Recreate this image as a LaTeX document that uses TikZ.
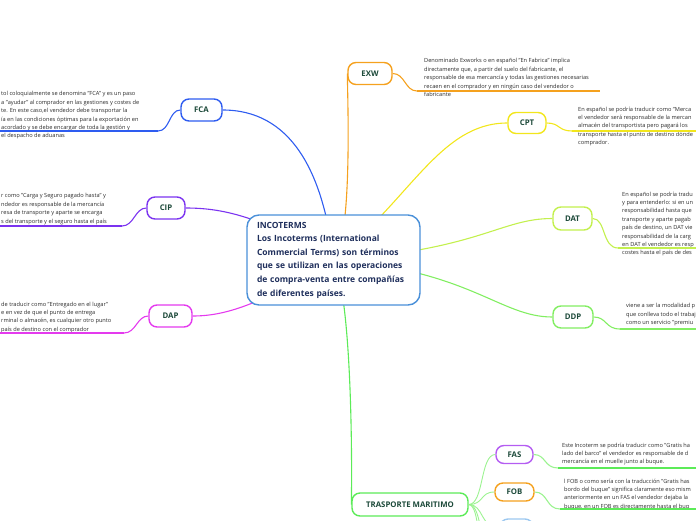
\documentclass[tikz,border=0pt]{standalone}
\usepackage{fontspec}
\setmainfont{Open Sans}
\usetikzlibrary{backgrounds}

\definecolor{rootline}{HTML}{4A90D9}
\definecolor{roottext}{HTML}{1F2F5C}
\definecolor{labeltext}{HTML}{1D4A3A}
\definecolor{bodytext}{HTML}{2B2B2B}
\definecolor{exwc}{HTML}{F5A11E}
\definecolor{cptc}{HTML}{F2E61C}
\definecolor{datc}{HTML}{C3F04E}
\definecolor{ddpc}{HTML}{82EE62}
\definecolor{fcac}{HTML}{2E5CF0}
\definecolor{cipc}{HTML}{7B33F0}
\definecolor{dapc}{HTML}{E43AEE}
\definecolor{tmc}{HTML}{5CEB58}
\definecolor{tmlight}{HTML}{9BF390}
\definecolor{fasc}{HTML}{B45CF2}
\definecolor{fobc}{HTML}{F5A11E}
\definecolor{cfrc}{HTML}{9CC8F0}

\begin{document}
\begin{tikzpicture}[x=1pt,y=-1pt,
    root/.style={draw=rootline, fill=white, rounded corners=12pt, line width=1.4pt,
      text width=153pt, inner xsep=10pt, minimum height=90pt, align=left,
      text=roottext, font=\fontsize{8.5}{13.6}\selectfont\bfseries},
    topic/.style={draw, fill=white, rounded corners=8pt, line width=1.4pt,
      minimum height=22pt, inner sep=0pt, text=labeltext,
      font=\fontsize{7.8}{9}\selectfont\bfseries},
    note/.style={anchor=north west, align=left, inner sep=0pt, text=bodytext,
      font=\fontsize{5.65}{8.4}\selectfont},
    link/.style={line width=1.1pt},
    sublink/.style={line width=0.9pt, tmlight},
    uline/.style={line width=1.8pt}]

    % Visible area
    \useasboundingbox (0,0) rectangle (696,520);
    \clip (0,0) rectangle (696,520);

    % Central topic
    \node[root] (inco) at (333.5,260) {INCOTERMS\\
      Los Incoterms (International\\
      Commercial Terms) son términos\\
      que se utilizan en las operaciones\\
      de compra-venta entre compañías\\
      de diferentes países.};

    % Main topics
    \node[topic, draw=exwc, minimum width=44pt] (exw) at (370,73.5) {EXW};
    \node[topic, draw=cptc, minimum width=38pt, minimum height=21pt] (cpt) at (527,123) {CPT};
    \node[topic, draw=datc, minimum width=39pt, minimum height=23pt] (dat) at (572.5,218.5) {DAT};
    \node[topic, draw=ddpc, minimum width=40pt] (ddp) at (573,317) {DDP};
    \node[topic, draw=fcac, minimum width=41pt] (fca) at (201.5,110) {FCA};
    \node[topic, draw=cipc, minimum width=38pt] (cip) at (166,208) {CIP};
    \node[topic, draw=dapc, minimum width=43pt] (dap) at (170.5,316) {DAP};
    \node[topic, draw=tmc, minimum width=116pt, minimum height=23pt] (tm) at (410,504.5) {TRASPORTE MARITIMO};

    % Sea transport topics
    \node[topic, draw=fasc, minimum width=37pt, minimum height=18pt] (fas) at (514.5,454.5) {FAS};
    \node[topic, draw=fobc, minimum width=39pt, minimum height=18pt] (fob) at (514.5,492) {FOB};
    \node[topic, draw=cfrc, minimum width=33pt, minimum height=18pt] (cfr) at (516.5,528) {};
    \coordinate (seafour) at (497,560);
    \coordinate (seafive) at (497,600);

    % Links from the central topic
    \begin{pgfonlayer}{background}
      \draw[link, fcac] (inco.center) .. controls (323,170) and (290,110) .. (fca.east);
      \draw[link, exwc] (inco.center) .. controls (352,240) and (348,110) .. (exw.west);
      \draw[link, cptc] (inco.center) .. controls (410,200) and (440,123) .. (cpt.west);
      \draw[link, datc] (inco.center) .. controls (480,250) and (500,218.5) .. (dat.west);
      \draw[link, ddpc] (inco.center) .. controls (470,270) and (500,317) .. (ddp.west);
      \draw[link, cipc] (inco.center) .. controls (260,215) and (220,208) .. (cip.east);
      \draw[link, dapc] (inco.center) .. controls (260,305) and (225,316) .. (dap.east);
      \draw[link, tmc] (inco.center) .. controls (353,300) and (352,480) .. (tm.west);
    \end{pgfonlayer}

    % Links below TRASPORTE MARITIMO
    \draw[sublink] (tm.east) .. controls (484,504.5) and (480,454.5) .. (fas.west);
    \draw[sublink] (tm.east) .. controls (484,504.5) and (480,492) .. (fob.west);
    \draw[sublink] (tm.east) .. controls (484,504.5) and (480,528) .. (cfr.west);
    \draw[sublink] (tm.east) .. controls (484,504.5) and (478,560) .. (seafour);
    \draw[sublink] (tm.east) .. controls (484,504.5) and (476,600) .. (seafive);

    % Notes, right side
    \node[note] (exwnote) at (424,58.5) {Denominado Exworks o en español "En Fabrica" implica\\
      directamente que, a partir del suelo del fabricante, el\\
      responsable de esa mercancía y todas las gestiones necesarias\\
      recaen en el comprador y en ningún caso del vendedor o\\
      fabricante};
    \node[note] (cptnote) at (578,106.5) {En español se podría traducir como "Merca\\
      el vendedor será responsable de la mercan\\
      almacén del transportista pero pagará los\\
      transporte hasta el punto de destino dónde\\
      comprador.};
    \node[note] (datnote) at (622,191.5) {En español se podría tradu\\
      y para entenderlo: si en un\\
      responsabilidad hasta que\\
      transporte y aparte pagab\\
      país de destino, un DAT vie\\
      responsabilidad de la carg\\
      en DAT el vendedor es resp\\
      costes hasta el país de des};
    \node[note] (ddpnote) at (626,303.5) {viene a ser la modalidad p\\
      que conlleva todo el trabaj\\
      como un servicio "premiu};
    \node[note] (fasnote) at (562,442.5) {Este Incoterm se podría traducir como "Gratis ha\\
      lado del barco" el vendedor es responsable de d\\
      mercancía en el muelle junto al buque.};
    \node[note] (fobnote) at (564,478.5) {l FOB o como sería con la traducción "Gratis has\\
      bordo del buque" significa claramente eso mism\\
      anteriormente en un FAS el vendedor dejaba la\\
      buque, en un FOB es directamente hasta el buq};

    % Notes, left side
    \node[note] (fcanote) at (1,91.5) {tol coloquialmente se denomina "FCA" y es un paso\\
      a "ayudar" al comprador en las gestiones y costes de\\
      te. En este caso,el vendedor debe transportar la\\
      ía en las condiciones óptimas para la exportación en\\
      acordado y se debe encargar de toda la gestión y\\
      el despacho de aduanas};
    \node[note] (cipnote) at (1,193.5) {r como "Carga y Seguro pagado hasta" y\\
      ndedor es responsable de la mercancía\\
      resa de transporte y aparte se encarga\\
      s del transporte y el seguro hasta el país};
    \node[note] (dapnote) at (1,301.5) {de traducir como "Entregado en el lugar"\\
      e en vez de que el punto de entrega\\
      rminal o almacén, es cualquier otro punto\\
      país de destino con el comprador};

    % Note underlines
    \coordinate (exwa) at (417,91);   \coordinate (exwb) at (600,91);
    \coordinate (cpta) at (572,131);  \coordinate (cptb) at (696,131);
    \coordinate (data) at (618,248);  \coordinate (datb) at (696,248);
    \coordinate (ddpa) at (620,329);  \coordinate (ddpb) at (696,329);
    \coordinate (fasa) at (558,468);  \coordinate (fasb) at (696,468);
    \coordinate (foba) at (560,509);  \coordinate (fobb) at (696,509);
    \coordinate (fcaa) at (158,131);  \coordinate (fcab) at (0,131);
    \coordinate (cipa) at (122,226);  \coordinate (cipb) at (0,226);
    \coordinate (dapa) at (124,333);  \coordinate (dapb) at (0,333);

    \draw[link, exwc] (exw.east) .. controls (405,73.5) and (405,91) .. (exwa);
    \draw[uline, exwc] (exwa) -- (exwb);
    \draw[link, cptc] (cpt.east) .. controls (560,123) and (558,131) .. (cpta);
    \draw[uline, cptc] (cpta) -- (cptb);
    \draw[link, datc] (dat.east) .. controls (606,218.5) and (602,248) .. (data);
    \draw[uline, datc] (data) -- (datb);
    \draw[link, ddpc] (ddp.east) .. controls (607,317) and (605,329) .. (ddpa);
    \draw[uline, ddpc] (ddpa) -- (ddpb);
    \draw[link, tmlight] (fas.east) .. controls (546,454.5) and (544,468) .. (fasa);
    \draw[uline, tmc] (fasa) -- (fasb);
    \draw[link, tmlight] (fob.east) .. controls (548,492) and (546,509) .. (foba);
    \draw[uline, tmc] (foba) -- (fobb);
    \draw[link, fcac] (fca.west) .. controls (169,110) and (170,131) .. (fcaa);
    \draw[uline, fcac] (fcaa) -- (fcab);
    \draw[link, cipc] (cip.west) .. controls (135,208) and (134,226) .. (cipa);
    \draw[uline, cipc] (cipa) -- (cipb);
    \draw[link, dapc] (dap.west) .. controls (137,316) and (136,333) .. (dapa);
    \draw[uline, dapc] (dapa) -- (dapb);

\end{tikzpicture}
\end{document}
